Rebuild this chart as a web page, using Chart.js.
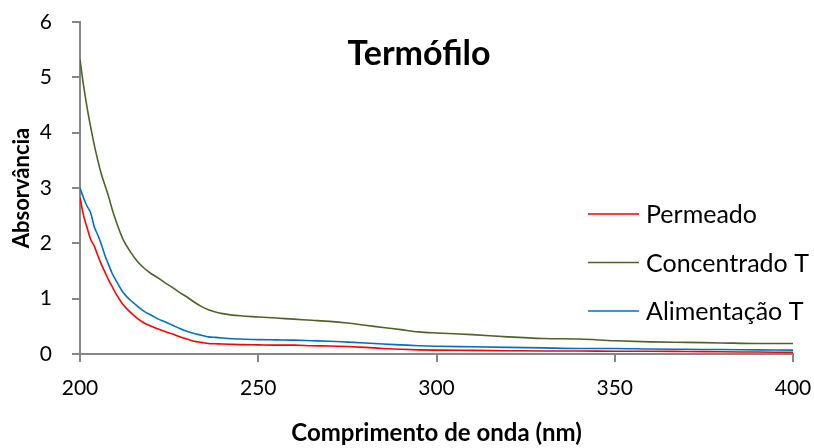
<!DOCTYPE html>
<html>
<head>
<meta charset="utf-8">
<script src="https://cdn.jsdelivr.net/npm/chart.js@4"></script>
<style>
  html, body { margin: 0; padding: 0; background: #fff; }
  #wrap { width: 814px; height: 448px; }
</style>
</head>
<body>
<div id="wrap"><canvas id="c" width="814" height="448"></canvas></div>
<script>
// Wavelength (nm) at which each absorbance reading was taken
const wavelengths = [200,201,202,203,204,205,206,207,208,209,210,212,214,216,218,220,222,224,226,228,230,232,234,236,238,240,245,250,255,260,265,270,275,280,285,290,295,300,310,320,330,340,350,360,370,380,390,400];

const permeado = [2.83,2.50,2.28,2.07,1.95,1.78,1.62,1.48,1.34,1.22,1.10,0.90,0.76,0.65,0.56,0.50,0.45,0.40,0.36,0.31,0.27,0.23,0.21,0.19,0.185,0.18,0.17,0.165,0.16,0.16,0.15,0.145,0.135,0.12,0.10,0.085,0.075,0.07,0.065,0.06,0.055,0.055,0.05,0.05,0.045,0.04,0.035,0.03];

const concentradoT = [5.32,4.85,4.45,4.10,3.78,3.50,3.25,3.05,2.85,2.62,2.42,2.08,1.86,1.68,1.55,1.45,1.37,1.28,1.20,1.11,1.03,0.94,0.86,0.80,0.76,0.73,0.69,0.67,0.65,0.63,0.61,0.59,0.56,0.52,0.48,0.44,0.40,0.38,0.35,0.31,0.28,0.27,0.24,0.22,0.21,0.20,0.19,0.19];

const alimentacaoT = [3.00,2.82,2.67,2.55,2.30,2.15,1.98,1.78,1.62,1.46,1.34,1.12,0.98,0.87,0.77,0.70,0.63,0.58,0.52,0.46,0.41,0.37,0.34,0.31,0.30,0.29,0.27,0.26,0.255,0.25,0.24,0.23,0.215,0.20,0.18,0.165,0.15,0.14,0.13,0.12,0.11,0.10,0.10,0.09,0.085,0.08,0.075,0.07];

const seriesNames = ['Permeado', 'Concentrado T', 'Alimentação T'];
const seriesColors = ['#FF0000', '#4F6228', '#0070C0'];
const chartTitle = 'Termófilo';
const xTitle = 'Comprimento de onda (nm)';
const yTitle = 'Absorvância';

const FONT = "Lato, 'Open Sans', sans-serif";
const AXIS = '#868686';

const toPoints = (vals) => wavelengths.map((w, i) => ({ x: w, y: vals[i] }));

// Title and legend are drawn inside the plot area
const overlay = {
  id: 'overlay',
  afterDraw(chart) {
    const ctx = chart.ctx;
    ctx.save();
    ctx.fillStyle = '#000';
    ctx.font = "bold 34px " + FONT;
    ctx.textAlign = 'center';
    ctx.textBaseline = 'middle';
    ctx.fillText(chartTitle, 419, 54);

    const rows = [214, 262.5, 311];
    ctx.font = "25px " + FONT;
    ctx.textAlign = 'left';
    chart.data.datasets.forEach((ds, i) => {
      const y = rows[i];
      ctx.strokeStyle = ds.borderColor;
      ctx.lineWidth = 1.5;
      ctx.beginPath();
      ctx.moveTo(588, y);
      ctx.lineTo(639, y);
      ctx.stroke();
      ctx.fillStyle = '#000';
      ctx.fillText(ds.label, 646, y + 1);
    });
    ctx.restore();
  }
};

new Chart(document.getElementById('c'), {
  type: 'line',
  data: {
    datasets: [
      { label: seriesNames[0], data: toPoints(permeado), borderColor: seriesColors[0] },
      { label: seriesNames[1], data: toPoints(concentradoT), borderColor: seriesColors[1] },
      { label: seriesNames[2], data: toPoints(alimentacaoT), borderColor: seriesColors[2] }
    ]
  },
  options: {
    responsive: false,
    animation: false,
    devicePixelRatio: 1,
    layout: { padding: { top: 22, right: 21, left: 0, bottom: 0 } },
    elements: {
      point: { radius: 0 },
      line: { borderWidth: 1.6, cubicInterpolationMode: 'monotone', fill: false }
    },
    plugins: { legend: { display: false }, title: { display: false }, tooltip: { enabled: false } },
    scales: {
      x: {
        type: 'linear',
        min: 200, max: 400,
        afterFit: (s) => { s.height = 94; s.paddingLeft = 0; s.paddingRight = 0; },
        border: { color: AXIS, width: 2 },
        grid: { drawOnChartArea: false, color: AXIS, lineWidth: 2, tickLength: 8 },
        ticks: { stepSize: 50, color: '#000', padding: 14, font: { family: FONT, size: 21 } },
        title: { display: true, text: xTitle, color: '#000', padding: { top: 0, bottom: 0 }, font: { family: FONT, size: 24, weight: 'bold' } }
      },
      y: {
        min: 0, max: 6,
        afterFit: (s) => { s.width = 80; s.paddingTop = 0; s.paddingBottom = 0; },
        border: { color: AXIS, width: 2 },
        grid: { drawOnChartArea: false, color: AXIS, lineWidth: 2, tickLength: 8 },
        ticks: { stepSize: 1, color: '#000', padding: 20, font: { family: FONT, size: 21 } },
        title: { display: true, text: yTitle, color: '#000', padding: { top: 9, bottom: 0 }, font: { family: FONT, size: 22, weight: 'bold' } }
      }
    }
  },
  plugins: [overlay]
});
</script>
</body>
</html>
